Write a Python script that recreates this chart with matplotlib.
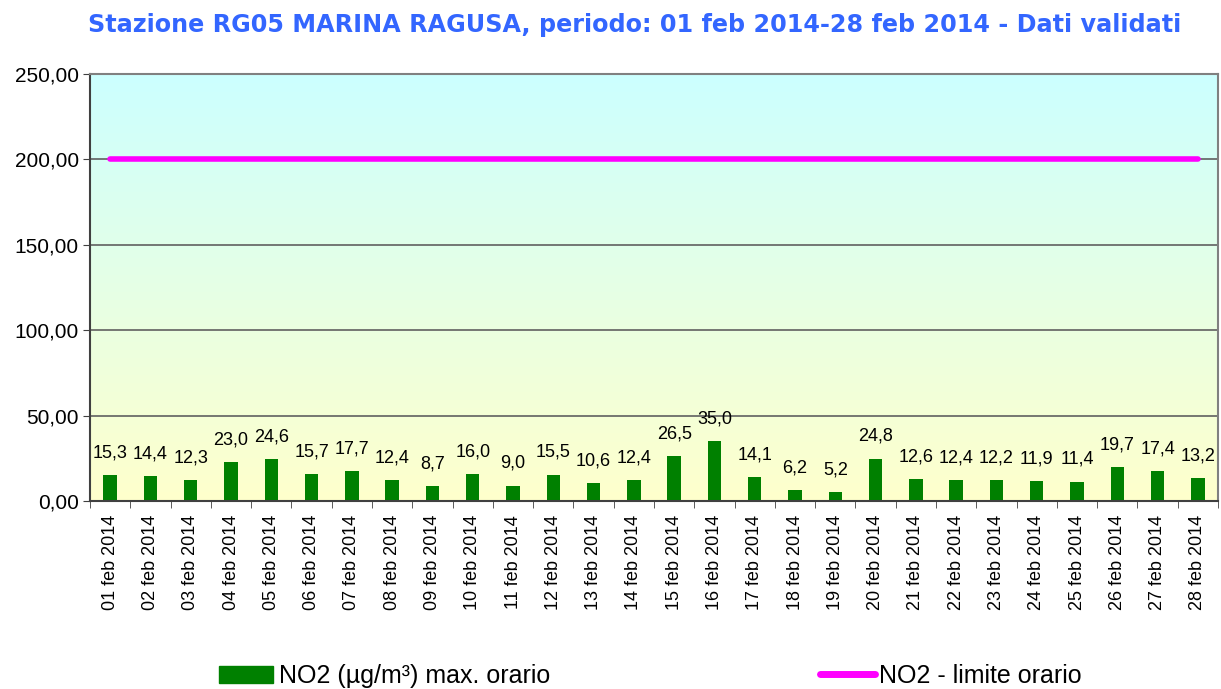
import matplotlib.pyplot as plt
import numpy as np
from matplotlib.colors import LinearSegmentedColormap
from matplotlib.lines import Line2D
from matplotlib.patches import Patch

plt.rcParams["font.family"] = ["Liberation Sans", "DejaVu Sans"]

days = [f"{d:02d} feb 2014" for d in range(1, 29)]
no2_max = [15.3, 14.4, 12.3, 23.0, 24.6, 15.7, 17.7, 12.4, 8.7, 16.0,
           9.0, 15.5, 10.6, 12.4, 26.5, 35.0, 14.1, 6.2, 5.2, 24.8,
           12.6, 12.4, 12.2, 11.9, 11.4, 19.7, 17.4, 13.2]
limit = [200.0] * 28
y_ticks = [0, 50, 100, 150, 200, 250]

fig = plt.figure(figsize=(12.21, 6.89), dpi=100)
ax = fig.add_axes([90 / 1221, 1 - 501 / 689, 1128 / 1221, 427 / 689])

x = np.arange(len(days))
ax.set_xlim(-0.5, len(days) - 0.5)
ax.set_ylim(0, 250)

# background gradient, cyan on top to pale yellow at the bottom
cmap = LinearSegmentedColormap.from_list("bg", ["#FFFFCC", "#CCFFFF"])
grad = np.linspace(0, 1, 256).reshape(-1, 1)
ax.imshow(grad, extent=(-0.5, len(days) - 0.5, 0, 250), origin="lower",
          aspect="auto", cmap=cmap, zorder=0)

for t in y_ticks[1:-1]:
    ax.axhline(t, color="#606060", lw=1.2, zorder=1)

ax.bar(x, no2_max, width=0.33, color="#008000", zorder=2)
ax.plot(x, limit, color="#FF00FF", lw=4, solid_capstyle="round", zorder=3)

for xi, v in zip(x, no2_max):
    ax.text(xi, v + 8, f"{v:.1f}".replace(".", ","), ha="center", va="bottom",
            fontsize=13, color="black", zorder=4)

ax.set_yticks(y_ticks)
ax.set_yticklabels([f"{t:.2f}".replace(".", ",") for t in y_ticks], fontsize=15)
ax.set_xticks(x)
ax.set_xticklabels(days, rotation=90, fontsize=13)
ax.set_xticks(np.arange(-0.5, len(days)), minor=True)
ax.tick_params(axis="x", which="major", length=0, pad=10)
ax.tick_params(axis="x", which="minor", length=5, direction="out", color="#404040")
ax.tick_params(axis="y", length=5, direction="out", color="#404040", pad=3)

for side in ["left", "bottom"]:
    ax.spines[side].set_color("#404040")
    ax.spines[side].set_linewidth(1.5)
for side in ["top", "right"]:
    ax.spines[side].set_color("#808080")
    ax.spines[side].set_linewidth(1.5)

fig.text(635 / 1221, 1 - 25 / 689,
         "Stazione RG05 MARINA RAGUSA, periodo: 01 feb 2014-28 feb 2014 - Dati validati",
         ha="center", va="center", fontsize=17.2, fontweight="bold", color="#3366FF",
         family="DejaVu Sans")

leg_y = 1 - 676 / 689
leg1 = fig.legend([Patch(color="#008000")], ["NO2 (µg/m³) max. orario"],
                  loc="center left", bbox_to_anchor=(219 / 1221, leg_y),
                  frameon=False, fontsize=18, borderpad=0, borderaxespad=0,
                  handlelength=2.15, handletextpad=0.25)
fig.legend([Line2D([], [], color="#FF00FF", lw=5, solid_capstyle="round")],
           ["NO2 - limite orario"],
           loc="center left", bbox_to_anchor=(820 / 1221, leg_y),
           frameon=False, fontsize=18, borderpad=0, borderaxespad=0,
           handlelength=2.2, handletextpad=0.15)

fig.savefig("out.png", dpi=100)
